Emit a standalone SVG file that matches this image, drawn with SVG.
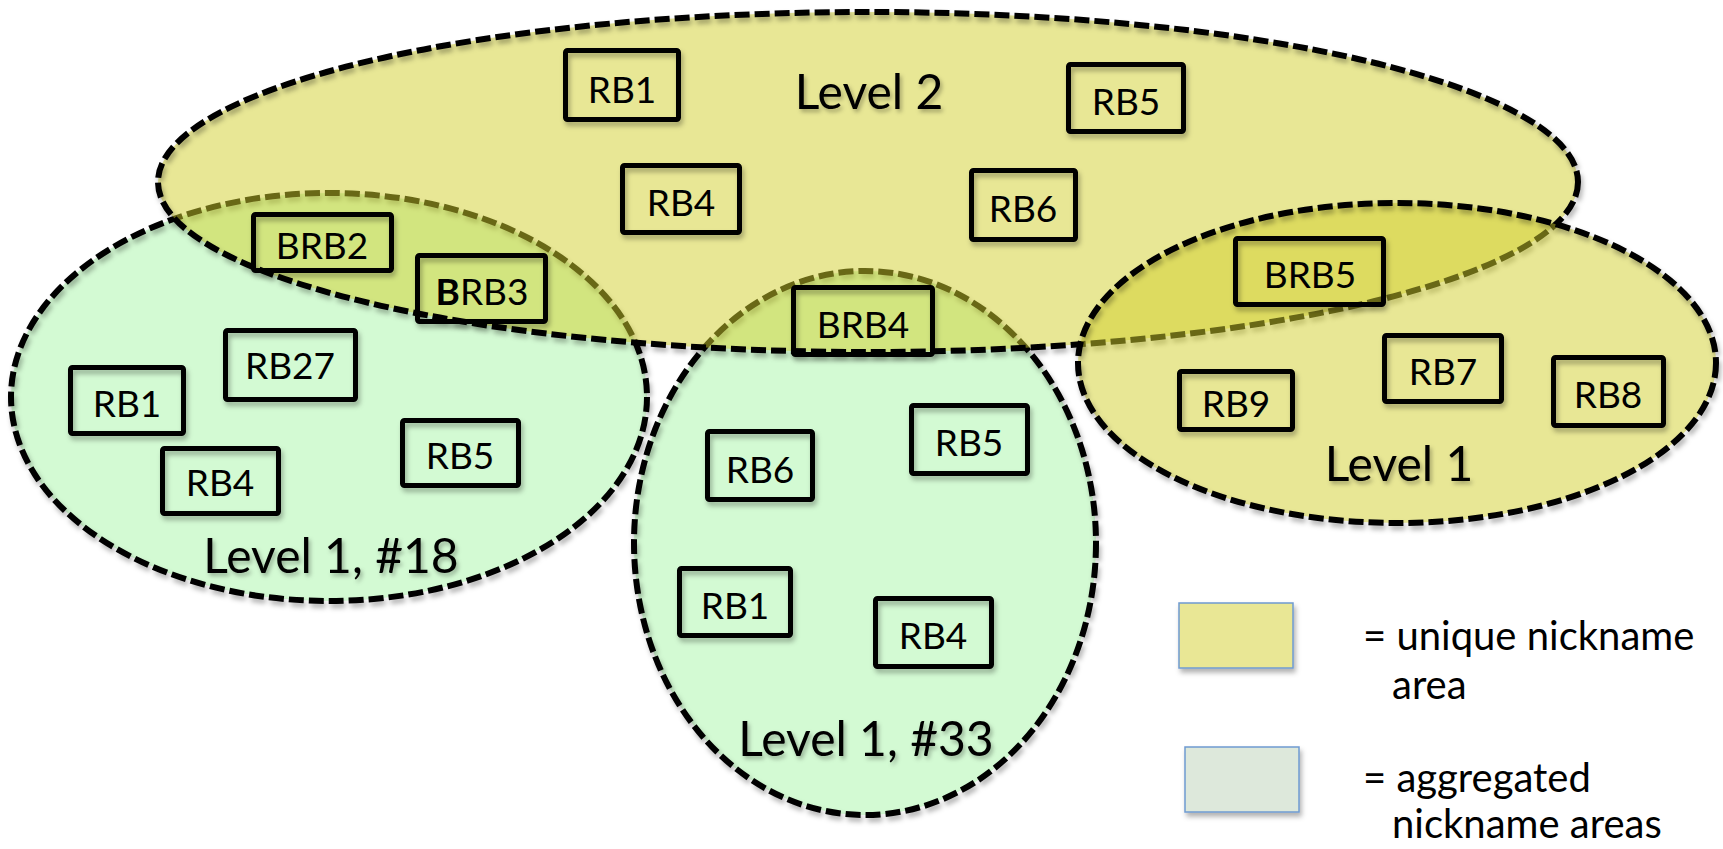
<svg xmlns="http://www.w3.org/2000/svg" width="1723" height="849" viewBox="0 0 1723 849">
<defs>
<filter id="sh" x="-10%" y="-10%" width="120%" height="130%">
<feDropShadow dx="2" dy="4" stdDeviation="2.5" flood-color="#000" flood-opacity="0.3"/>
</filter>
<filter id="tsh" x="-10%" y="-20%" width="130%" height="150%">
<feDropShadow dx="2" dy="3" stdDeviation="2" flood-color="#000" flood-opacity="0.3"/>
</filter>
</defs>
<style>
.green{fill:#D3FAD3;stroke:none}
.yel{fill:#D2D02C;fill-opacity:0.5;stroke:none}
.edge{fill:none;stroke:#000;stroke-width:6;stroke-dasharray:15 5}
.box{fill:none;stroke:#000;stroke-width:5}
.lbl{font-family:Lato,"Liberation Sans",sans-serif;font-size:37px;fill:#000;text-anchor:middle}
.lvl{font-family:Lato,"Liberation Sans",sans-serif;font-size:48px;fill:#000;text-anchor:middle}
.leg{font-family:Lato,"Liberation Sans",sans-serif;font-size:40px;fill:#000}
.legbox{stroke:#6F9BD1;stroke-width:1.5}
</style>
<rect width="1723" height="849" fill="#FFFFFF"/>

<g id="area-level1-18">
<ellipse class="green" cx="329" cy="397" rx="318" ry="204"/>
<ellipse class="edge" cx="329" cy="397" rx="318" ry="204" filter="url(#sh)"/>
</g>
<g id="area-level1-33">
<ellipse class="green" cx="865" cy="543" rx="231" ry="272"/>
<ellipse class="edge" cx="865" cy="543" rx="231" ry="272" filter="url(#sh)"/>
</g>
<g id="area-level2">
<ellipse class="yel" cx="868" cy="182" rx="710" ry="170"/>
<ellipse class="edge" cx="868" cy="182" rx="710" ry="170" filter="url(#sh)"/>
</g>
<g id="area-level1">
<ellipse class="yel" cx="1397" cy="363" rx="319" ry="160"/>
<ellipse class="edge" cx="1397" cy="363" rx="319" ry="160" filter="url(#sh)"/>
</g>

<g id="labels">
<text class="lvl" x="869" y="109" filter="url(#tsh)">Level 2</text>
<text class="lvl" x="1399" y="481" filter="url(#tsh)">Level 1</text>
<text class="lvl" x="331" y="573" filter="url(#tsh)">Level 1, #18</text>
<text class="lvl" x="866" y="756" filter="url(#tsh)">Level 1, #33</text>
</g>

<g id="connectors"/>

<g id="l2-rb1"><rect class="box" x="565.5" y="50.5" width="113" height="69" rx="2" filter="url(#sh)"/><text class="lbl" x="622" y="103">RB1</text></g>
<g id="l2-rb5"><rect class="box" x="1068.5" y="64.5" width="115" height="67" rx="2" filter="url(#sh)"/><text class="lbl" x="1126" y="115">RB5</text></g>
<g id="l2-rb4"><rect class="box" x="622.5" y="165.5" width="117" height="67" rx="2" filter="url(#sh)"/><text class="lbl" x="681" y="216">RB4</text></g>
<g id="l2-rb6"><rect class="box" x="971.5" y="170.5" width="104" height="69" rx="2" filter="url(#sh)"/><text class="lbl" x="1023" y="222">RB6</text></g>
<g id="brb2"><rect class="box" x="253.5" y="214.5" width="138" height="56" rx="2" filter="url(#sh)"/><text class="lbl" x="322" y="259">BRB2</text></g>
<g id="brb3"><rect class="box" x="417.5" y="255.5" width="128" height="66" rx="2" filter="url(#sh)"/><text class="lbl" x="482" y="305"><tspan font-weight="bold">B</tspan>RB3</text></g>
<g id="brb4"><rect class="box" x="793.5" y="287.5" width="139" height="67" rx="2" filter="url(#sh)"/><text class="lbl" x="863" y="338">BRB4</text></g>
<g id="brb5"><rect class="box" x="1235.5" y="238.5" width="148" height="66" rx="2" filter="url(#sh)"/><text class="lbl" x="1310" y="288">BRB5</text></g>

<g id="l1-rb9"><rect class="box" x="1179.5" y="371.5" width="113" height="58" rx="2" filter="url(#sh)"/><text class="lbl" x="1236" y="417">RB9</text></g>
<g id="l1-rb7"><rect class="box" x="1384.5" y="335.5" width="117" height="66" rx="2" filter="url(#sh)"/><text class="lbl" x="1443" y="385">RB7</text></g>
<g id="l1-rb8"><rect class="box" x="1553.5" y="357.5" width="110" height="68" rx="2" filter="url(#sh)"/><text class="lbl" x="1608" y="408">RB8</text></g>

<g id="n18-rb1"><rect class="box" x="70.5" y="367.5" width="113" height="66" rx="2" filter="url(#sh)"/><text class="lbl" x="127" y="417">RB1</text></g>
<g id="n18-rb27"><rect class="box" x="225.5" y="330.5" width="130" height="69" rx="2" filter="url(#sh)"/><text class="lbl" x="290" y="379">RB27</text></g>
<g id="n18-rb4"><rect class="box" x="162.5" y="448.5" width="116" height="65" rx="2" filter="url(#sh)"/><text class="lbl" x="220" y="496">RB4</text></g>
<g id="n18-rb5"><rect class="box" x="402.5" y="420.5" width="116" height="65" rx="2" filter="url(#sh)"/><text class="lbl" x="460" y="469">RB5</text></g>

<g id="n33-rb6"><rect class="box" x="707.5" y="431.5" width="105" height="68" rx="2" filter="url(#sh)"/><text class="lbl" x="760" y="483">RB6</text></g>
<g id="n33-rb5"><rect class="box" x="911.5" y="405.5" width="116" height="68" rx="2" filter="url(#sh)"/><text class="lbl" x="969" y="456">RB5</text></g>
<g id="n33-rb1"><rect class="box" x="679.5" y="568.5" width="111" height="67" rx="2" filter="url(#sh)"/><text class="lbl" x="735" y="619">RB1</text></g>
<g id="n33-rb4"><rect class="box" x="875.5" y="598.5" width="116" height="68" rx="2" filter="url(#sh)"/><text class="lbl" x="933" y="649">RB4</text></g>

<g id="legend-unique">
<rect class="legbox" x="1179" y="603" width="114" height="65" fill="#E9E795" filter="url(#sh)"/>
<text class="leg" x="1363" y="650">= unique nickname</text>
<text class="leg" x="1392" y="699">area</text>
</g>
<g id="legend-aggregated">
<rect class="legbox" x="1185" y="747" width="114" height="65" fill="#DDE8DB" filter="url(#sh)"/>
<text class="leg" x="1363" y="792">= aggregated</text>
<text class="leg" x="1392" y="838">nickname areas</text>
</g>
</svg>
